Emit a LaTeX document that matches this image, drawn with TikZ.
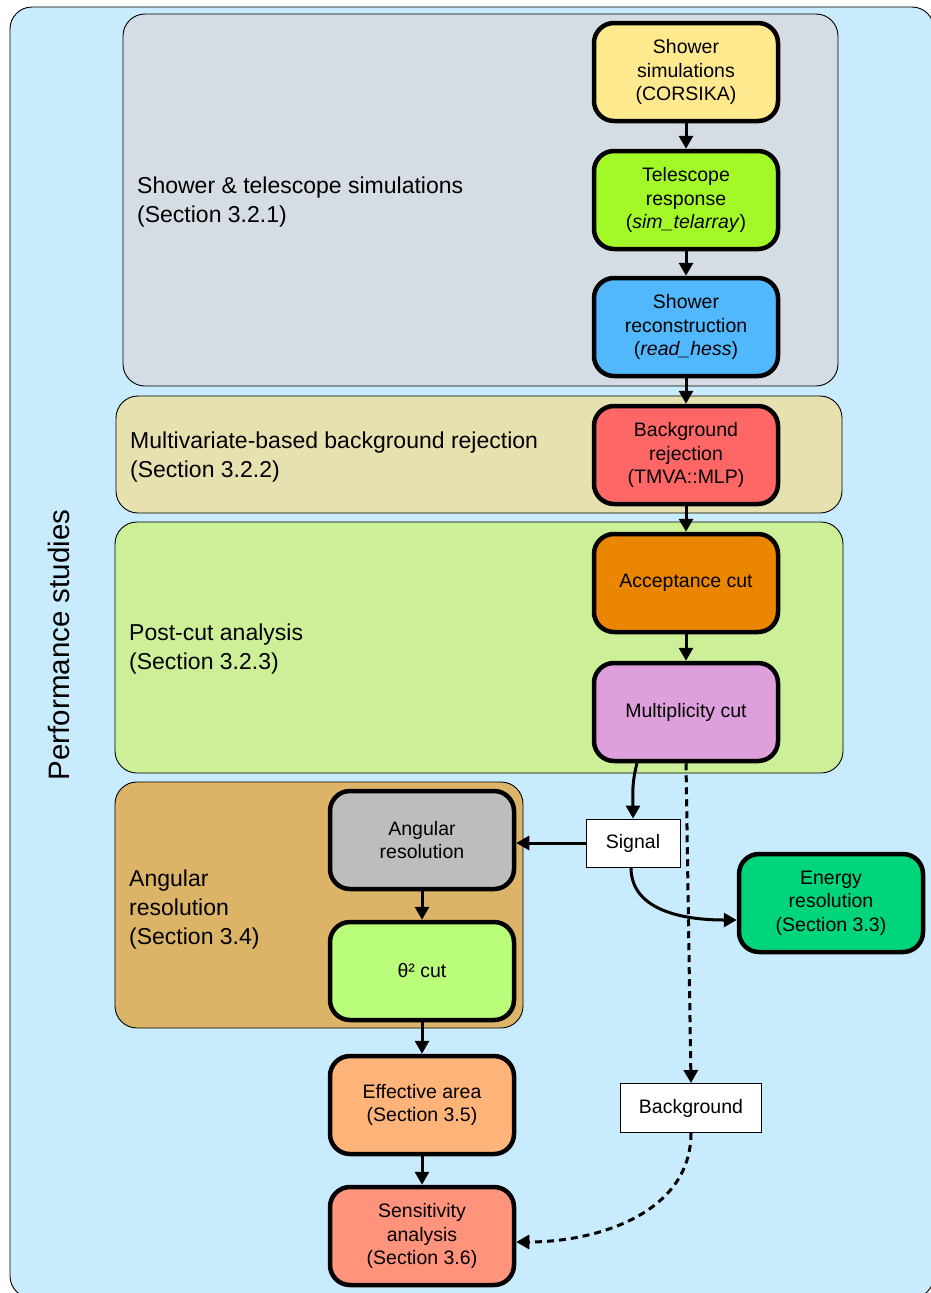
\documentclass[tikz,border=0pt]{standalone}
\usepackage{fontspec}
\setmainfont{Liberation Sans}
\usetikzlibrary{arrows.meta}

\definecolor{outerblue}{HTML}{C8ECFD}
\definecolor{simgray}{HTML}{D5DCE3}
\definecolor{mvatan}{HTML}{E6E1AE}
\definecolor{postgreen}{HTML}{CDEF98}
\definecolor{angbrown}{HTML}{DBB468}
\definecolor{showeryellow}{HTML}{FFE98E}
\definecolor{telgreen}{HTML}{A3F928}
\definecolor{recoblue}{HTML}{52B8FD}
\definecolor{rejred}{HTML}{FF6767}
\definecolor{accorange}{HTML}{EB8600}
\definecolor{multviolet}{HTML}{DDA0DD}
\definecolor{anggray}{HTML}{BDBDBD}
\definecolor{thetagreen}{HTML}{B9FD7A}
\definecolor{energygreen}{HTML}{00D57C}
\definecolor{effpeach}{HTML}{FEB378}
\definecolor{senssalmon}{HTML}{FF937B}

\begin{document}
\begin{tikzpicture}[x=1pt, y=-1pt,
    stage/.style={draw, line width=4.5pt, rounded corners=20pt, minimum width=184pt, minimum height=98pt, align=center, font=\fontsize{19.5}{23.5}\selectfont},
    group/.style={draw, line width=0.9pt, rounded corners=22pt},
    grouplabel/.style={anchor=west, align=left, inner sep=0pt, font=\fontsize{23}{29}\selectfont},
    tag/.style={draw, fill=white, line width=0.9pt, font=\fontsize{19.5}{23.5}\selectfont},
    flow/.style={-{Triangle[length=13pt,width=14pt]}, line width=3pt},
    bgflow/.style={flow, dash pattern=on 7pt off 5pt}]

    \useasboundingbox (0,0) rectangle (931,1293);

    % Background boxes
    \draw[group, fill=outerblue] (10,7) rectangle (934,1298);
    \draw[group, fill=simgray] (123,14) rectangle (838,386);
    \draw[group, fill=mvatan] (116,396) rectangle (842,513);
    \draw[group, fill=postgreen] (115,522) rectangle (843,773);
    \draw[group, fill=angbrown] (115,782) rectangle (523,1028);

    \node[rotate=90, font=\fontsize{29.5}{34}\selectfont] (perf) at (59,645) {Performance studies};

    \node[grouplabel] (simlabel) at (137,202) {Shower \& telescope simulations\\(Section 3.2.1)};
    \node[grouplabel] (mvalabel) at (130,457) {Multivariate-based background rejection\\(Section 3.2.2)};
    \node[grouplabel] (postlabel) at (129,649) {Post-cut analysis\\(Section 3.2.3)};
    \node[grouplabel] (anglabel) at (129,910) {Angular\\resolution\\(Section 3.4)};

    % Draw nodes
    \node[stage, fill=showeryellow] (showersim) at (686,72) {Shower\\simulations\\(CORSIKA)};
    \node[stage, fill=telgreen] (telresp) at (686,200) {Telescope\\response\\(\textit{sim\_telarray})};
    \node[stage, fill=recoblue] (reco) at (686,327) {Shower\\reconstruction\\(\textit{read\_hess})};
    \node[stage, fill=rejred] (bgrej) at (686,455) {Background\\rejection\\(TMVA::MLP)};
    \node[stage, fill=accorange] (acccut) at (686,583) {Acceptance cut};
    \node[stage, fill=multviolet] (multcut) at (686,712) {Multiplicity cut};
    \node[stage, fill=anggray] (angres) at (422,840) {Angular\\resolution};
    \node[stage, fill=thetagreen] (thetacut) at (422,971) {θ² cut};
    \node[stage, fill=effpeach] (effarea) at (422,1105) {Effective area\\(Section 3.5)};
    \node[stage, fill=senssalmon] (sens) at (422,1236) {Sensitivity\\analysis\\(Section 3.6)};
    \node[stage, fill=energygreen] (energy) at (831,903) {Energy\\resolution\\(Section 3.3)};

    \node[tag, minimum width=94pt, minimum height=48pt] (signal) at (633,843) {Signal};
    \node[tag, minimum width=141pt, minimum height=49pt] (bkg) at (691,1108) {Background};

    % Arrows
    \draw[flow] (showersim) -- (telresp);
    \draw[flow] (telresp) -- (reco);
    \draw[flow] (reco) -- (bgrej);
    \draw[flow] (bgrej) -- (acccut);
    \draw[flow] (acccut) -- (multcut);
    \draw[flow] ([xshift=-49pt]multcut.south) to[out=-105, in=90] (signal.north);
    \draw[flow] (signal.west) -- (signal.west -| angres.east);
    \draw[flow] ([xshift=-2pt]signal.south) to[out=-90, in=180] ([yshift=-17pt]energy.west);
    \draw[flow] (angres) -- (thetacut);
    \draw[flow] (thetacut) -- (effarea);
    \draw[flow] (effarea) -- (sens);
    \draw[bgflow] (multcut.south) -- (bkg.north);
    \draw[bgflow] (bkg.south) to[out=-90, in=0] ([yshift=-6pt]sens.east);

\end{tikzpicture}
\end{document}
